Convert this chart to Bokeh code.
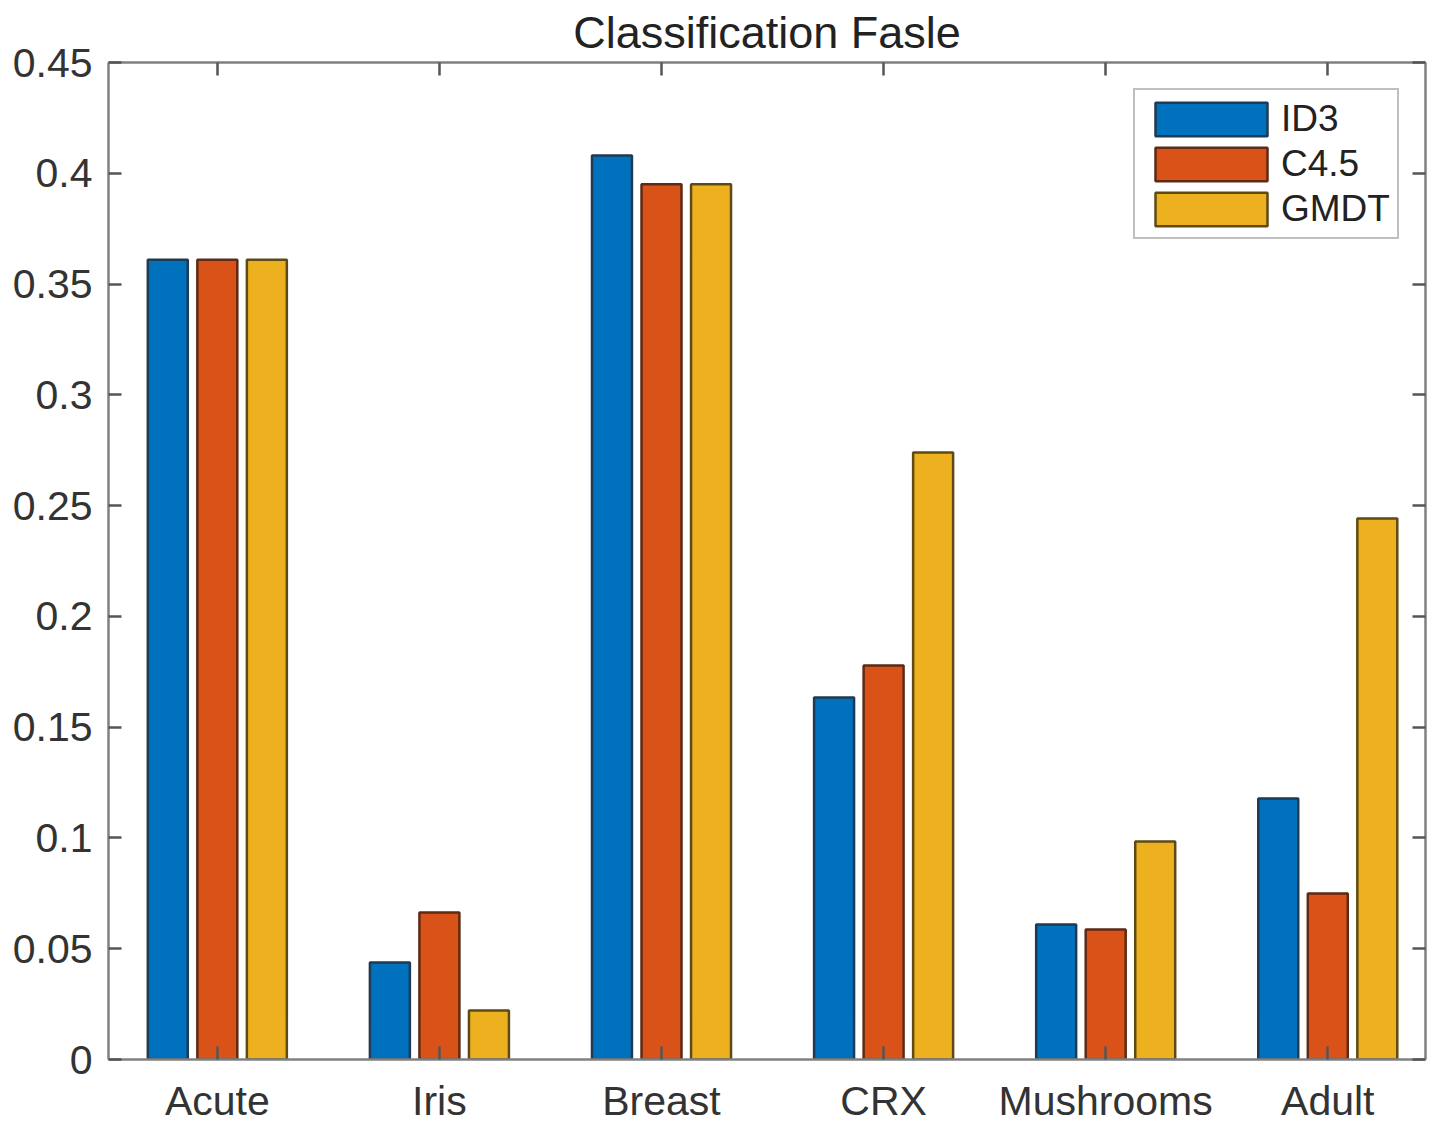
from bokeh.plotting import figure
from bokeh.models import LinearAxis, FixedTicker, Range1d, Legend, LegendItem, ColumnDataSource
from bokeh.embed import file_html
from bokeh.resources import INLINE

categories = ["Acute", "Iris", "Breast", "CRX", "Mushrooms", "Adult"]
series_names = ["ID3", "C4.5", "GMDT"]
id3 = [0.361, 0.0438, 0.408, 0.1634, 0.0609, 0.1178]
c45 = [0.361, 0.0663, 0.395, 0.1778, 0.0587, 0.0749]
gmdt = [0.361, 0.0221, 0.395, 0.2740, 0.0984, 0.2442]
y_ticks = [0, 0.05, 0.1, 0.15, 0.2, 0.25, 0.3, 0.35, 0.4, 0.45]
y_tick_labels = ["0", "0.05", "0.1", "0.15", "0.2", "0.25", "0.3", "0.35", "0.4", "0.45"]

colors = ["#0072BD", "#D95319", "#EDB120"]
edge = ["#1f3a52", "#5e2a14", "#5e4a14"]
FONT = "Liberation Sans"

p = figure(frame_width=1317, frame_height=997, output_backend="svg", toolbar_location=None,
           x_range=Range1d(0.51, 6.44), y_range=Range1d(0, 0.45),
           min_border_left=108, min_border_right=20, min_border_top=60, min_border_bottom=10,
           x_axis_type=None, y_axis_type=None)
p.background_fill_color = "white"
p.border_fill_color = "white"
p.outline_line_color = None
p.grid.visible = False

p.title.text = "Classification Fasle"
p.title.align = "center"
p.title.text_font = FONT
p.title.text_font_size = "45px"
p.title.text_font_style = "normal"
p.title.text_color = "#222222"
p.title.standoff = 9

xs = list(range(1, len(categories) + 1))
offsets = [-0.223, 0.0, 0.223]
renderers = []
for vals, off, col, ec in zip([id3, c45, gmdt], offsets, colors, edge):
    src = ColumnDataSource(dict(x=[x + off for x in xs], top=vals))
    r = p.vbar(x="x", top="top", bottom=0, width=0.18, source=src,
               fill_color=col, line_color=ec, line_width=2.5)
    renderers.append(r)

tick_labels = {i + 1: c for i, c in enumerate(categories)}
ylab = {t: l for t, l in zip(y_ticks, y_tick_labels)}


def style(ax, labels=True):
    ax.axis_line_color = "#808080"
    ax.axis_line_width = 2.5
    ax.major_tick_line_color = "#555555"
    ax.major_tick_line_width = 2.5
    ax.major_tick_in = 13
    ax.major_tick_out = 0
    ax.minor_tick_line_color = None
    ax.major_label_text_font = FONT
    ax.major_label_text_font_size = "41px" if labels else "2px"
    ax.major_label_text_color = "#333333"


bx = LinearAxis(ticker=FixedTicker(ticks=xs), major_label_overrides=tick_labels)
style(bx)
bx.major_label_standoff = 18
p.add_layout(bx, "below")

tx = LinearAxis(ticker=FixedTicker(ticks=xs), major_label_overrides={x: "" for x in xs})
style(tx, labels=False)
tx.major_label_standoff = 0
p.add_layout(tx, "above")

ly = LinearAxis(ticker=FixedTicker(ticks=y_ticks), major_label_overrides=ylab)
style(ly)
ly.major_label_standoff = 16
p.add_layout(ly, "left")

ry = LinearAxis(ticker=FixedTicker(ticks=y_ticks), major_label_overrides={t: "" for t in y_ticks})
style(ry, labels=False)
ry.major_label_standoff = 0
p.add_layout(ry, "right")

legend = Legend(items=[LegendItem(label=n, renderers=[r]) for n, r in zip(series_names, renderers)],
                location="top_right")
legend.label_text_font = FONT
legend.label_text_font_size = "37px"
legend.label_text_color = "#222222"
legend.glyph_width = 140
legend.glyph_height = 42
legend.label_standoff = 0
legend.label_width = 110
legend.spacing = 0
legend.padding = 6
legend.margin = 26
legend.border_line_color = "#808080"
legend.border_line_width = 2.5
legend.background_fill_color = "white"
legend.label_height = 45
p.add_layout(legend, "center")

open("out.html", "w").write(file_html(p, INLINE))
